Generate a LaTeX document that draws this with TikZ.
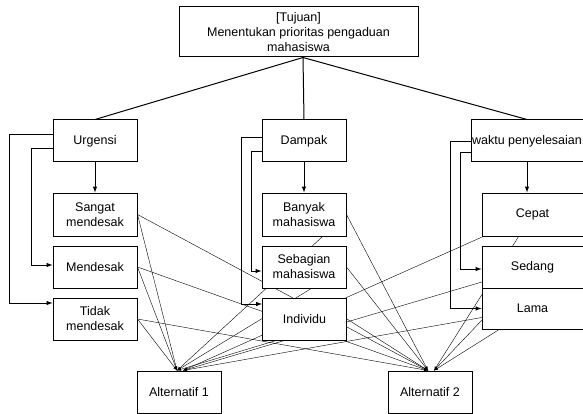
\documentclass[tikz,border=0pt]{standalone}
\usepackage{fontspec}
\setmainfont{Liberation Sans}
\tikzset{
	>=latex
}
\usetikzlibrary{backgrounds}

\begin{document}
\begin{tikzpicture}[x=1pt,y=-1pt,line width=1pt,
	kotak/.style={draw, fill=white, inner sep=0pt, align=center, minimum width=84pt, minimum height=42pt, font=\fontsize{12.5}{15}\selectfont}
	]
	%\draw[help lines] (0,0) grid[step=20] (583,414);
	\useasboundingbox (0,0) rectangle (583,414);

	% tujuan dan kriteria
	\node[kotak, minimum width=239pt, minimum height=50pt] (tujuan) at (298.5,32) {[Tujuan]\\Menentukan prioritas pengaduan\\mahasiswa};
	\node[kotak] (urgensi) at (95,141) {Urgensi};
	\node[kotak] (dampak) at (304,141) {Dampak};
	\node[kotak, minimum width=112pt] (waktu) at (527,141) {waktu penyelesaian};

	% sub kriteria
	\node[kotak, minimum height=43pt] (sm) at (95,214.5) {Sangat\\mendesak};
	\node[kotak] (md) at (95,267) {Mendesak};
	\node[kotak] (tm) at (95,319) {Tidak\\mendesak};
	\node[kotak, minimum height=43pt] (bm) at (304,214.5) {Banyak\\mahasiswa};
	\node[kotak] (sb) at (304,267) {Sebagian\\mahasiswa};
	\node[kotak] (ind) at (304.5,319) {Individu};
	\node[kotak, minimum width=101pt, minimum height=43pt] (cepat) at (532.5,214.5) {Cepat};
	\node[kotak, minimum width=101pt] (sedang) at (532.5,267) {Sedang};
	\node[kotak, minimum width=101pt, minimum height=41pt] (lama) at (532.5,308.5) {Lama};

	% alternatif
	\node[kotak] (a1) at (179,392) {Alternatif 1};
	\node[kotak] (a2) at (430,392) {Alternatif 2};

	\draw ([xshift=4.5pt]tujuan.south) -- (urgensi.north);
	\draw ([xshift=4.5pt]tujuan.south) -- (dampak.north);
	\draw ([xshift=4.5pt]tujuan.south) -- (waktu.north);

	\draw[->] (urgensi.south) -- (sm.north);
	\draw[->] (dampak.south) -- (bm.north);
	\draw[->] (waktu.south) -- (waktu.south |- cepat.north);

	\draw[->] ([yshift=6pt]urgensi.west) -- ++(-43,0) |- ([yshift=16pt]tm.west);
	\draw[->] ([yshift=-8pt]urgensi.west) -- ++(-21,0) |- ([yshift=2pt]md.west);
	\draw[->] ([yshift=3pt]dampak.west) -- ++(-20,0) |- ([yshift=15pt]ind.west);
	\draw[->] ([yshift=-11pt]dampak.west) -- ++(-10,0) |- ([yshift=-4pt]sb.west);
	\draw[->] ([yshift=-1pt]waktu.west) -- ++(-20,0) |- (lama.west);
	\draw[->] ([yshift=-12pt]waktu.west) -- ++(-10,0) |- ([yshift=-2pt]sedang.west);

	\begin{scope}[on background layer, line width=1.1pt]
		\foreach \s in {sm,md,tm,bm,sb,ind}{
			\draw[->] (\s.east) -- ([xshift=-2pt]a1.north);
			\draw[->] (\s.east) -- ([xshift=-2pt]a2.north);
		}
		\foreach \s in {cepat,sedang,lama}{
			\draw[->] (\s.center) -- ([xshift=4pt]a1.north);
			\draw[->] (\s.center) -- ([xshift=4pt]a2.north);
		}
	\end{scope}

\end{tikzpicture}
\end{document}
